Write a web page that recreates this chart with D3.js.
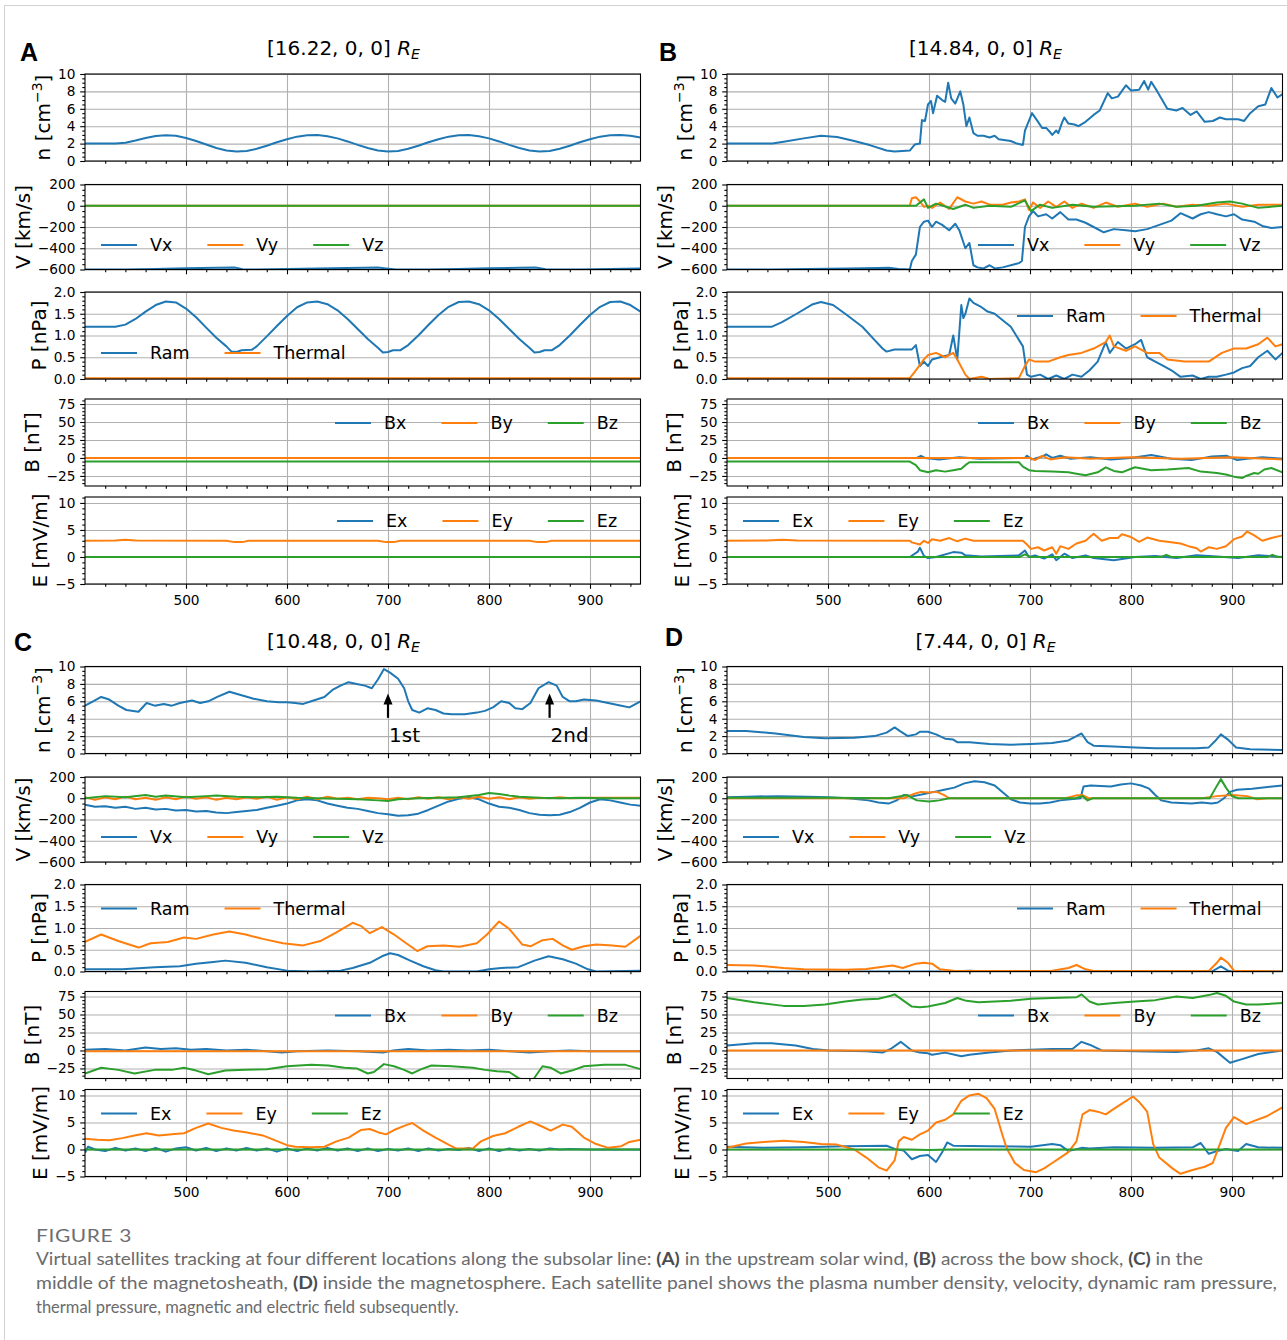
<!DOCTYPE html>
<html>
<head>
<meta charset="utf-8">
<script src="https://cdn.jsdelivr.net/npm/d3@7"></script>
<style>
  body { margin: 0; background: #fff; }
  svg text { font-family: "DejaVu Sans", sans-serif; fill: #000; }
</style>
</head>
<body>
<script>
// ---- shared axis values ----
const tDomain = [400, 950];
const xMajor = [500, 600, 700, 800, 900];
const xMinor = d3.range(420, 950, 20).filter(t => t % 100 !== 0);

const rowKeys = ["n", "V", "P", "B", "E"];
const rowNames = { V: ["Vx", "Vy", "Vz"], P: ["Ram", "Thermal"], B: ["Bx", "By", "Bz"], E: ["Ex", "Ey", "Ez"] };
const yTicks = { n: [0, 2, 4, 6, 8, 10], V: [-600, -400, -200, 0, 200], P: [0, 0.5, 1, 1.5, 2], B: [-25, 0, 25, 50, 75], E: [-5, 0, 5, 10] };
const yMinorStep = { n: 0.5, V: 50, P: 0.1, B: 5, E: 1 };
const yDomains = { n: [0, 10], V: [-600, 200], P: [0, 2], B: [-39, 82], E: [-5, 11.1] };

// ---- panel A: [16.22, 0, 0] ----
const aN = [[400,2.0],[410,2.0],[420,2.0],[430,2.0],[440,2.1],[450,2.35],[460,2.65],[470,2.88],[480,2.97],[490,2.9],[500,2.65],[510,2.3],[520,1.9],[530,1.5],[540,1.2],[550,1.1],[560,1.15],[570,1.4],[580,1.75],[590,2.15],[600,2.5],[610,2.8],[620,2.95],[630,2.98],[640,2.85],[650,2.6],[660,2.25],[670,1.85],[680,1.5],[690,1.2],[700,1.1],[710,1.15],[720,1.4],[730,1.75],[740,2.15],[750,2.5],[760,2.8],[770,2.95],[780,2.98],[790,2.85],[800,2.6],[810,2.25],[820,1.85],[830,1.5],[840,1.2],[850,1.1],[860,1.15],[870,1.4],[880,1.75],[890,2.15],[900,2.5],[910,2.8],[920,2.95],[930,2.98],[940,2.9],[950,2.7]];
const aVx = [[400,-600],[440,-600],[470,-595],[500,-588],[530,-583],[548,-581],[556,-597],[570,-600],[600,-596],[630,-590],[660,-585],[690,-582],[698,-590],[708,-600],[740,-600],[770,-595],[800,-589],[830,-584],[846,-582],[856,-598],[890,-600],[920,-596],[950,-590]];
const aVy = [[400,0],[950,0]];
const aVz = [[400,0],[950,0]];
const aRam = [[400,1.2],[410,1.2],[420,1.2],[430,1.2],[440,1.25],[450,1.38],[460,1.55],[470,1.7],[480,1.78],[490,1.76],[500,1.62],[510,1.42],[520,1.18],[530,0.95],[540,0.75],[545,0.63],[550,0.62],[555,0.66],[565,0.67],[570,0.75],[580,0.98],[590,1.22],[600,1.45],[610,1.65],[620,1.76],[630,1.78],[640,1.72],[650,1.58],[660,1.38],[670,1.15],[680,0.92],[690,0.72],[695,0.61],[700,0.62],[705,0.66],[712,0.66],[720,0.78],[730,1.0],[740,1.24],[750,1.47],[760,1.66],[770,1.77],[780,1.78],[790,1.72],[800,1.58],[810,1.38],[820,1.15],[830,0.92],[840,0.72],[845,0.61],[850,0.62],[855,0.66],[862,0.66],[870,0.78],[880,1.0],[890,1.24],[900,1.47],[910,1.66],[920,1.77],[930,1.78],[940,1.7],[950,1.55]];
const aTherm = [[400,0.02],[950,0.02]];
const aBx = [[400,0],[950,0]];
const aBy = [[400,0],[950,0]];
const aBz = [[400,-5],[950,-5]];
const aEx = [[400,0],[950,0]];
const aEy = [[400,3.0],[430,3.05],[440,3.2],[450,3.05],[540,3.0],[548,2.75],[556,2.75],[562,3.0],[690,3.0],[698,2.75],[706,2.75],[712,3.0],[840,3.0],[848,2.75],[856,2.75],[862,3.0],[950,3.0]];
const aEz = [[400,0],[950,0]];

// ---- panel B: [14.84, 0, 0] ----
const bN = [[400,2],[445,2],[456,2.2],[476,2.6],[493,2.9],[509,2.75],[526,2.3],[542,1.8],[558,1.2],[566,1.1],[581,1.2],[586,1.9],[591,2.0],[593,4.7],[596,4.6],[599,6.5],[602,6.9],[604,5.5],[608,7.5],[613,7.0],[616,6.8],[619,9.0],[622,7.2],[626,6.6],[631,8.0],[634,6.5],[637,4.0],[640,5.0],[644,3.2],[648,2.9],[654,2.9],[660,2.7],[665,2.9],[669,2.5],[681,2.3],[687,2.0],[693,1.85],[695,3.5],[702,5.5],[708,4.5],[712,3.8],[716,3.8],[720,3.3],[722,3.0],[726,3.5],[728,3.2],[732,4.5],[734,5.0],[738,4.3],[744,4.2],[748,4.0],[755,4.5],[763,5.3],[769,5.8],[777,7.8],[781,7.2],[787,7.4],[795,8.7],[800,8.1],[808,8.2],[813,9.2],[817,8.2],[820,9.1],[826,8.0],[836,6.0],[845,5.8],[851,6.1],[859,5.3],[865,5.7],[873,4.5],[881,4.6],[888,5.0],[894,4.8],[906,4.8],[912,4.6],[918,5.5],[926,6.3],[933,6.5],[939,8.4],[945,7.3],[950,7.7]];
const bVx = [[400,-600],[445,-600],[480,-595],[520,-590],[550,-585],[560,-583],[570,-595],[581,-600],[583,-520],[587,-460],[591,-200],[595,-150],[599,-140],[603,-200],[607,-150],[613,-180],[620,-230],[626,-170],[630,-230],[636,-400],[640,-350],[644,-560],[648,-580],[654,-590],[660,-560],[665,-590],[673,-580],[689,-540],[692,-520],[695,-200],[699,-100],[703,-50],[708,-100],[716,-80],[722,-120],[730,-60],[738,-130],[746,-130],[755,-160],[763,-200],[773,-250],[783,-220],[795,-230],[804,-240],[816,-220],[828,-180],[840,-140],[849,-70],[861,-120],[869,-80],[877,-60],[885,-80],[894,-100],[902,-80],[910,-130],[922,-150],[930,-190],[939,-210],[950,-200]];
const bVy = [[400,0],[581,0],[583,70],[587,80],[591,40],[595,-10],[599,0],[603,-20],[611,30],[620,-30],[628,80],[636,40],[644,20],[652,40],[660,10],[673,10],[681,30],[689,40],[695,60],[699,-40],[703,30],[710,-20],[718,40],[726,-10],[734,40],[742,-20],[751,20],[763,-20],[775,30],[787,-10],[804,20],[816,-10],[832,20],[845,-10],[861,10],[877,0],[894,20],[910,-10],[926,10],[950,10]];
const bVz = [[400,0],[587,0],[595,60],[599,-20],[607,20],[624,-30],[636,10],[644,-20],[660,0],[681,-10],[695,50],[701,-50],[710,10],[722,-20],[742,10],[763,-10],[804,0],[828,20],[845,-10],[865,0],[885,30],[898,40],[910,20],[926,-20],[950,0]];
const bRam = [[400,1.2],[444,1.2],[454,1.3],[469,1.5],[485,1.72],[493,1.77],[505,1.7],[517,1.5],[534,1.2],[546,0.9],[554,0.7],[558,0.63],[566,0.68],[583,0.68],[587,0.78],[591,0.3],[595,0.4],[599,0.3],[603,0.45],[611,0.5],[620,0.55],[624,1.0],[628,0.45],[632,1.7],[634,1.4],[636,1.5],[640,1.85],[644,1.75],[652,1.65],[658,1.55],[665,1.5],[673,1.35],[681,1.2],[689,0.9],[693,0.75],[697,0.1],[701,0.05],[710,0.1],[718,0.0],[726,0.08],[734,0.0],[742,0.1],[751,0.05],[759,0.2],[767,0.4],[775,0.85],[779,0.6],[787,0.85],[795,0.7],[804,0.8],[810,0.9],[816,0.5],[824,0.4],[832,0.3],[840,0.2],[849,0.05],[861,0.08],[869,0.0],[877,0.05],[885,0.05],[894,0.1],[902,0.15],[910,0.25],[918,0.3],[926,0.5],[935,0.65],[943,0.45],[950,0.6]];
const bTherm = [[400,0.02],[581,0.02],[587,0.2],[595,0.45],[599,0.55],[607,0.6],[616,0.5],[624,0.6],[628,0.45],[636,0.1],[640,0.0],[652,0.05],[660,0.0],[689,0.02],[695,0.3],[699,0.45],[705,0.4],[718,0.4],[730,0.5],[738,0.55],[751,0.6],[763,0.7],[775,0.85],[779,1.0],[783,0.75],[795,0.65],[804,0.75],[816,0.6],[828,0.6],[836,0.45],[853,0.4],[865,0.4],[877,0.4],[890,0.6],[902,0.7],[914,0.7],[926,0.8],[935,0.95],[943,0.75],[950,0.8]];
const bBx = [[400,0],[588,0],[592,3],[596,0],[610,-2],[630,1],[650,-1],[695,0],[697,3],[702,-2],[712,2],[716,5],[722,0],[730,3],[740,-1],[760,1],[780,-2],[800,0],[820,4],[840,-1],[860,-3],[880,2],[895,3],[905,-3],[915,-1],[930,1],[950,-1]];
const bBy = [[400,0],[700,0],[705,-3],[712,3],[720,-2],[735,1],[760,-1],[800,1],[850,-1],[900,1],[950,-2]];
const bBz = [[400,-5],[581,-5],[587,-10],[591,-17],[599,-20],[607,-17],[616,-19],[624,-17],[632,-15],[636,-10],[640,-6],[656,-6],[673,-6],[689,-6],[693,-12],[699,-17],[705,-18],[722,-19],[738,-20],[746,-22],[755,-24],[767,-20],[775,-13],[783,-18],[791,-20],[800,-15],[804,-13],[820,-17],[836,-16],[857,-14],[869,-19],[885,-21],[894,-23],[902,-26],[910,-28],[914,-25],[922,-21],[926,-22],[932,-16],[939,-14],[950,-20]];
const bEx = [[400,0],[581,0],[589,1.0],[591,1.7],[595,0.2],[599,-0.2],[607,0],[624,0.9],[632,0.8],[636,0.3],[652,0.1],[689,0.3],[695,1.2],[699,0.0],[705,0.3],[714,-0.3],[722,0.5],[726,-0.6],[734,0.6],[742,-0.2],[755,0.3],[763,-0.2],[783,-0.6],[804,0],[824,0.2],[845,-0.2],[865,0.3],[885,0.1],[906,-0.2],[926,0.3],[950,0]];
const bEy = [[400,3.0],[440,3.05],[455,3.2],[470,3.05],[581,3.0],[583,2.7],[591,2.3],[595,3.0],[599,2.6],[603,3.3],[611,3.0],[620,3.5],[628,2.9],[636,3.4],[644,3.0],[652,3.0],[673,3.0],[693,3.0],[697,2.3],[701,1.5],[708,1.8],[714,1.2],[722,1.8],[726,0.6],[730,2.0],[738,1.5],[746,2.5],[755,3.0],[763,4.3],[771,3.0],[779,3.5],[787,3.5],[791,4.2],[800,3.7],[808,2.8],[816,3.6],[828,3.0],[836,2.8],[849,2.5],[857,2.0],[865,1.6],[869,1.0],[877,1.8],[885,1.5],[894,2.0],[902,3.3],[910,3.8],[915,4.7],[922,4.0],[930,3.0],[939,3.5],[950,4.0]];
const bEz = [[400,0],[690,0],[695,0.5],[700,0],[830,0],[835,0.4],[840,0],[935,0],[940,0.4],[945,0],[950,0]];

// ---- panel C: [10.48, 0, 0] ----
const cN = [[400,5.5],[408,6.0],[416,6.5],[424,6.2],[433,5.5],[441,5.0],[453,4.8],[461,5.8],[469,5.5],[478,5.7],[486,5.5],[494,5.8],[506,6.1],[514,5.8],[522,6.0],[531,6.5],[543,7.1],[555,6.7],[567,6.3],[580,6.0],[592,5.9],[600,5.9],[608,5.8],[616,5.7],[624,6.0],[637,6.5],[645,7.3],[653,7.8],[661,8.2],[669,8.0],[677,7.8],[684,7.5],[690,8.5],[696,9.7],[702,9.3],[710,8.6],[716,7.5],[720,6.0],[724,5.0],[731,4.7],[739,5.2],[747,5.0],[755,4.6],[763,4.5],[776,4.5],[788,4.7],[796,4.9],[804,5.3],[812,6.0],[820,5.8],[826,5.2],[833,5.1],[841,5.8],[849,7.5],[859,8.2],[867,7.8],[873,6.5],[880,6.0],[886,6.0],[894,6.2],[906,6.1],[918,5.8],[931,5.5],[939,5.3],[950,6.0]];
const cVx = [[400,-60],[410,-80],[420,-75],[430,-90],[440,-80],[450,-100],[460,-90],[470,-105],[480,-100],[490,-115],[500,-110],[510,-125],[520,-120],[530,-135],[540,-140],[550,-130],[560,-120],[570,-110],[580,-90],[590,-70],[600,-50],[610,-20],[620,-10],[630,-20],[640,-50],[650,-70],[660,-90],[670,-100],[680,-120],[690,-140],[700,-150],[710,-165],[720,-160],[730,-145],[740,-110],[750,-70],[760,-30],[770,-5],[780,10],[790,-10],[800,-50],[810,-80],[820,-90],[830,-110],[840,-140],[850,-155],[860,-160],[870,-155],[880,-130],[890,-90],[900,-40],[910,-10],[920,-20],[930,-40],[940,-60],[950,-70]];
const cVy = [[400,10],[410,-15],[420,10],[430,-10],[440,15],[450,-10],[460,5],[470,-15],[480,10],[490,-10],[500,15],[510,-5],[520,10],[530,-15],[540,5],[550,-10],[560,10],[570,-5],[580,15],[590,-15],[600,10],[610,-10],[620,15],[630,-10],[640,15],[650,-5],[660,5],[670,-10],[680,5],[690,0],[700,-10],[710,5],[720,-10],[730,10],[740,-5],[750,10],[760,-10],[770,10],[780,-5],[790,15],[800,-5],[810,10],[820,-10],[830,10],[840,-5],[850,5],[860,0],[870,10],[880,0],[900,5],[950,5]];
const cVz = [[400,0],[420,20],[440,10],[460,30],[470,15],[480,25],[500,10],[520,20],[530,25],[550,15],[570,10],[590,15],[610,5],[630,0],[650,-5],[670,-10],[690,-20],[700,-25],[710,-10],[730,0],[750,5],[770,10],[790,30],[800,50],[810,40],[820,25],[830,15],[850,5],[870,0],[890,5],[910,0],[950,0]];
const cRam = [[400,0.05],[437,0.05],[469,0.1],[494,0.12],[510,0.18],[527,0.22],[539,0.25],[559,0.2],[580,0.1],[600,0.02],[624,0.0],[653,0.02],[665,0.08],[682,0.2],[694,0.35],[702,0.42],[710,0.38],[722,0.25],[735,0.12],[747,0.03],[755,0.0],[788,0.0],[800,0.05],[812,0.08],[829,0.1],[845,0.25],[859,0.35],[873,0.28],[886,0.18],[898,0.05],[906,0.0],[950,0.02]];
const cTherm = [[400,0.68],[416,0.85],[433,0.7],[453,0.55],[465,0.65],[482,0.68],[498,0.78],[510,0.75],[527,0.85],[543,0.92],[559,0.85],[576,0.75],[596,0.65],[616,0.6],[633,0.7],[649,0.9],[665,1.12],[673,1.05],[682,0.88],[694,1.02],[706,0.85],[718,0.65],[729,0.47],[739,0.58],[755,0.6],[771,0.57],[788,0.65],[798,0.85],[810,1.15],[820,0.98],[833,0.62],[841,0.58],[853,0.72],[863,0.75],[873,0.6],[882,0.5],[894,0.58],[906,0.62],[922,0.6],[935,0.57],[950,0.82]];
const cBx = [[400,1],[420,2],[440,0],[460,4],[475,2],[490,3],[505,1],[520,2],[540,0],[560,1],[580,-1],[595,-3],[610,-1],[640,0],[670,-1],[695,-3],[705,0],[720,2],[740,0],[760,1],[780,0],[800,1],[820,-1],[840,-3],[860,-1],[880,0],[900,-1],[950,-1]];
const cBy = [[400,-1],[950,-1]];
const cBz = [[400,-32],[416,-24],[433,-27],[449,-32],[469,-27],[486,-27],[498,-24],[510,-28],[522,-33],[539,-28],[559,-27],[580,-26],[600,-22],[624,-20],[641,-21],[657,-24],[669,-25],[680,-32],[686,-30],[696,-19],[706,-22],[716,-27],[724,-32],[733,-26],[743,-21],[763,-22],[784,-24],[796,-27],[808,-29],[820,-30],[829,-38],[835,-42],[841,-45],[845,-38],[853,-22],[861,-24],[871,-32],[882,-28],[894,-22],[914,-20],[935,-20],[950,-26]];
const cEx = [[400,-0.6],[403,0.5],[410,0],[420,-0.3],[430,0.3],[440,-0.2],[450,0.2],[460,-0.3],[470,0.3],[480,-0.4],[490,0.2],[500,0.4],[510,-0.2],[520,0.3],[530,-0.3],[540,0.2],[550,-0.2],[560,0.3],[570,-0.2],[580,0.2],[590,-0.4],[600,0.2],[610,-0.3],[620,0.2],[630,-0.2],[640,0.3],[650,-0.2],[660,0.2],[670,-0.3],[680,0.2],[690,-0.3],[700,0.1],[710,-0.2],[720,0.2],[730,-0.3],[740,0.2],[750,-0.2],[760,0.1],[770,-0.1],[780,0.3],[790,-0.3],[800,0.2],[810,-0.3],[820,0.2],[830,-0.2],[840,0.1],[850,-0.2],[860,0.2],[870,0],[880,0.1],[900,0],[950,0]];
const cEy = [[400,2.0],[412,1.8],[424,1.7],[437,2.1],[449,2.6],[461,3.0],[473,2.6],[486,2.8],[498,3.0],[510,4.0],[522,4.8],[535,4.0],[547,3.5],[559,3.2],[576,2.6],[592,1.4],[600,0.8],[608,0.5],[624,0.4],[637,0.5],[649,1.5],[661,2.2],[673,3.6],[682,3.8],[690,3.2],[698,2.8],[706,3.6],[718,4.5],[724,4.9],[735,3.5],[747,2.2],[759,1.0],[767,0.2],[784,0.2],[792,1.5],[804,2.5],[816,3.0],[829,4.2],[841,5.2],[853,4.2],[861,3.5],[873,4.6],[882,4.2],[894,2.2],[906,1.0],[918,0.3],[931,0.6],[939,1.4],[950,1.8]];
const cEz = [[400,0],[950,0]];
const cMarkTimes = [700, 860];
const cMarkLabels = ["1st", "2nd"];

// ---- panel D: [7.44, 0, 0] ----
const dN = [[400,2.6],[419,2.6],[448,2.3],[476,1.9],[497,1.75],[526,1.8],[546,2.0],[558,2.4],[566,3.0],[571,2.6],[579,2.0],[587,2.2],[591,2.5],[599,2.5],[607,2.2],[616,1.7],[624,1.6],[628,1.3],[640,1.3],[660,1.1],[681,1.0],[701,1.1],[722,1.2],[738,1.5],[746,2.0],[751,2.3],[757,1.3],[763,0.9],[783,0.8],[804,0.7],[824,0.6],[845,0.6],[865,0.6],[877,0.7],[883,1.4],[889,2.2],[896,1.6],[904,0.7],[918,0.5],[950,0.4]];
const dVx = [[400,10],[420,15],[450,20],[480,15],[500,10],[520,0],[540,-20],[550,-40],[560,-50],[568,-20],[575,30],[585,20],[595,40],[605,60],[615,80],[625,100],[635,140],[645,160],[655,150],[665,120],[675,40],[681,-10],[690,-40],[700,-50],[710,-50],[720,-40],[730,-20],[740,-10],[750,0],[753,110],[760,120],[780,110],[790,130],[800,140],[810,120],[818,90],[824,30],[830,-20],[840,-40],[860,-50],[870,-40],[880,-50],[886,-40],[892,0],[898,60],[905,80],[920,90],[940,110],[950,120]];
const dVy = [[400,0],[575,0],[585,40],[592,60],[600,55],[608,60],[615,30],[620,0],[735,0],[745,25],[752,30],[758,0],[870,0],[885,20],[900,30],[915,20],[925,-10],[935,0],[950,0]];
const dVz = [[400,5],[500,5],[560,0],[572,20],[578,30],[588,-20],[600,-30],[610,-20],[620,0],[745,0],[752,20],[757,-20],[762,0],[878,0],[884,100],[889,180],[894,100],[900,20],[906,0],[950,0]];
const dRam = [[400,0],[620,0],[640,0.02],[660,0],[880,0],[889,0.12],[896,0.02],[900,0],[950,0]];
const dTherm = [[400,0.15],[427,0.14],[456,0.08],[476,0.05],[517,0.04],[538,0.06],[558,0.12],[564,0.14],[574,0.08],[587,0.18],[595,0.2],[603,0.18],[611,0.05],[624,0.02],[681,0.01],[722,0.02],[738,0.08],[746,0.15],[755,0.05],[763,0.01],[877,0.01],[885,0.2],[889,0.32],[896,0.2],[902,0.02],[950,0.0]];
const dBx = [[400,7],[427,10],[444,10],[468,7],[485,2],[501,0],[538,-1],[554,-3],[562,2],[572,12],[583,0],[591,-3],[599,-4],[603,-6],[616,-3],[632,-8],[640,-6],[660,-3],[681,0],[722,2],[742,2],[751,12],[759,8],[771,0],[804,-1],[845,-2],[865,0],[877,3],[885,-2],[898,-17],[910,-12],[926,-5],[950,0]];
const dBy = [[400,0],[950,0]];
const dBz = [[400,73],[427,67],[456,62],[476,62],[497,64],[517,68],[534,71],[550,72],[562,76],[566,78],[574,70],[583,61],[591,60],[599,61],[616,66],[628,73],[637,69],[649,67],[681,69],[701,72],[722,73],[746,74],[751,78],[759,68],[767,64],[783,66],[804,68],[824,70],[845,75],[861,73],[877,77],[885,80],[894,76],[902,68],[914,64],[926,64],[950,66]];
const dEx = [[400,0.5],[436,0.3],[476,0.4],[517,0.6],[558,0.7],[566,0.1],[575,-0.2],[583,-1.8],[591,-1.2],[599,-1.0],[607,-2.3],[613,-0.5],[618,1.3],[624,0.7],[660,0.6],[701,0.5],[722,1.0],[730,0.8],[738,-0.3],[751,0.3],[759,0.2],[783,0.4],[824,0.3],[861,0.4],[869,1.2],[877,-0.8],[885,-0.3],[894,0.1],[906,-0.3],[914,1.0],[926,0.4],[950,0.3]];
const dEy = [[400,0.3],[419,1.1],[436,1.4],[456,1.6],[476,1.4],[493,1.0],[509,0.9],[526,0.0],[538,-1.5],[550,-3.3],[558,-3.9],[566,-2.0],[570,1.5],[575,2.3],[583,1.8],[591,2.8],[599,3.5],[607,5.0],[616,5.5],[624,6.5],[632,9.0],[640,10.0],[649,10.3],[657,9.5],[665,7.5],[673,2.5],[677,0.2],[685,-2.5],[694,-3.8],[706,-4.2],[714,-3.5],[722,-2.5],[730,-1.5],[738,-0.5],[746,1.5],[752,6.5],[759,7.3],[767,7.0],[775,6.5],[783,7.5],[791,8.5],[802,9.8],[808,8.8],[816,7.0],[822,1.0],[828,-1.5],[841,-3.5],[849,-4.5],[861,-3.8],[873,-3.2],[881,-2.5],[885,-0.5],[894,4.0],[902,6.0],[914,4.7],[922,5.3],[935,6.2],[950,7.8]];
const dEz = [[400,0],[580,0],[600,-0.1],[620,0],[950,0]];

// ---- caption ----
const captionHead = "FIGURE 3";
const captionLines = [
  [["Virtual satellites tracking at four different locations along the subsolar line: ", 0], ["(A)", 1], [" in the upstream solar wind, ", 0], ["(B)", 1], [" across the bow shock, ", 0], ["(C)", 1], [" in the", 0]],
  [["middle of the magnetosheath, ", 0], ["(D)", 1], [" inside the magnetosphere. Each satellite panel shows the plasma number density, velocity, dynamic ram pressure,", 0]],
  [["thermal pressure, magnetic and electric field subsequently.", 0]]
];

// ---- layout ----
const W = 1287, H = 1340;
const plotW = 555.5;
const rowBox = { n: [74, 161], V: [184.5, 269.5], P: [292, 379], B: [399, 486], E: [497, 584] };
const colors = ["#1f77b4", "#ff7f0e", "#2ca02c"];
const fmts = { n: d3.format("d"), V: d3.format("d"), P: d3.format(".1f"), B: d3.format("d"), E: d3.format("d") };

const panels = [
  { id: "A", pos: "16.22", left: 85, top: 0, letter: [20, 61],
    data: { n: [aN], V: [aVx, aVy, aVz], P: [aRam, aTherm], B: [aBx, aBy, aBz], E: [aEx, aEy, aEz] },
    leg: { V: [16, 60.5], P: [16, 61], B: [250, 24], E: [252, 24] } },
  { id: "B", pos: "14.84", left: 727, top: 0, letter: [659, 61],
    data: { n: [bN], V: [bVx, bVy, bVz], P: [bRam, bTherm], B: [bBx, bBy, bBz], E: [bEx, bEy, bEz] },
    leg: { V: [251, 60.5], P: [290, 24], B: [251, 24], E: [16, 24] } },
  { id: "C", pos: "10.48", left: 85, top: 592.5, letter: [14, 651],
    data: { n: [cN], V: [cVx, cVy, cVz], P: [cRam, cTherm], B: [cBx, cBy, cBz], E: [cEx, cEy, cEz] },
    leg: { V: [16, 60], P: [16, 24], B: [250, 24], E: [16, 24] }, marks: true },
  { id: "D", pos: "7.44", left: 727, top: 592.5, letter: [665, 646],
    data: { n: [dN], V: [dVx, dVy, dVz], P: [dRam, dTherm], B: [dBx, dBy, dBz], E: [dEx, dEy, dEz] },
    leg: { V: [16, 60], P: [290, 24], B: [251, 24], E: [16, 24] } }
];

const svg = d3.select("body").append("svg").attr("width", W).attr("height", H);
svg.append("rect").attr("width", W).attr("height", H).attr("fill", "#fff");
svg.append("rect").attr("x", 4.5).attr("y", 5.5).attr("width", W + 20).attr("height", H + 20)
  .attr("fill", "none").attr("stroke", "#d2d2d2").attr("stroke-width", 1);

const x = d3.scaleLinear().domain(tDomain).range([0, plotW]);

function styleTicks(sel, size) {
  sel.select(".domain").remove();
  sel.attr("font-size", null).attr("font-family", null);
  sel.selectAll("line").attr("stroke", "#000").attr("stroke-width", 1.1);
  sel.selectAll("text").style("font-size", size + "px");
}

panels.forEach(p => {
  const pg = svg.append("g").attr("transform", `translate(${p.left},${p.top})`);

  svg.append("text").attr("x", p.letter[0]).attr("y", p.letter[1]).text(p.id)
    .style("font-family", "'Liberation Sans', Arial, sans-serif")
    .style("font-weight", "bold").style("font-size", "25px");

  const title = pg.append("text").attr("x", 258.5).attr("y", 55)
    .attr("text-anchor", "middle").style("font-size", "20px");
  title.append("tspan").text(`[${p.pos}, 0, 0] `);
  title.append("tspan").style("font-style", "italic").text("R");
  title.append("tspan").style("font-style", "italic").style("font-size", "14px").attr("dy", 4).text("E");

  rowKeys.forEach(k => {
    const [top, bot] = rowBox[k];
    const h = bot - top;
    const y = d3.scaleLinear().domain(yDomains[k]).range([h, 0]);
    const g = pg.append("g").attr("transform", `translate(0,${top})`);

    // grid
    g.append("g")
      .call(d3.axisBottom(x).tickValues(xMajor).tickSize(h).tickFormat(""))
      .call(s => s.select(".domain").remove())
      .selectAll("line").attr("stroke", "#b0b0b0").attr("stroke-width", 1.1);
    g.append("g")
      .call(d3.axisLeft(y).tickValues(yTicks[k]).tickSize(-plotW).tickFormat(""))
      .call(s => s.select(".domain").remove())
      .selectAll("line").attr("stroke", "#b0b0b0").attr("stroke-width", 1.1);

    // series
    const clipId = `clip-${p.id}-${k}`;
    g.append("clipPath").attr("id", clipId)
      .append("rect").attr("width", plotW).attr("height", h);
    const lg = g.append("g").attr("clip-path", `url(#${clipId})`);
    const line = d3.line().x(d => x(d[0])).y(d => y(d[1]));
    p.data[k].forEach((s, i) => {
      lg.append("path").attr("d", line(s)).attr("fill", "none")
        .attr("stroke", colors[i]).attr("stroke-width", 2)
        .attr("stroke-linejoin", "round");
    });

    // frame
    g.append("rect").attr("width", plotW).attr("height", h)
      .attr("fill", "none").attr("stroke", "#000").attr("stroke-width", 1.1);

    // y axis
    const [d0, d1] = yDomains[k];
    const st = yMinorStep[k];
    const yMinor = d3.range(Math.ceil(d0 / st - 1e-9), Math.floor(d1 / st + 1e-9) + 1)
      .map(i => +(i * st).toFixed(4))
      .filter(v => !yTicks[k].some(t => Math.abs(t - v) < 1e-6));
    g.append("g").call(d3.axisLeft(y).tickValues(yMinor).tickSize(2.7).tickFormat(""))
      .call(s => styleTicks(s, 13.7));
    const yAx = g.append("g")
      .call(d3.axisLeft(y).tickValues(yTicks[k]).tickFormat(fmts[k])
        .tickSizeInner(4.8).tickSizeOuter(0).tickPadding(4.8))
      .call(s => styleTicks(s, 13.7));
    const tw = d3.max(yAx.selectAll("text").nodes(), n => n.getBBox().width);
    const lx = -9.6 - tw - 5.4 - 2.5;
    const yl = g.append("text")
      .attr("transform", `translate(${lx},${h / 2}) rotate(-90)`)
      .attr("text-anchor", "middle").style("font-size", "20px");
    if (k === "n") {
      yl.append("tspan").text("n [cm");
      yl.append("tspan").attr("dy", -8).style("font-size", "14px").text("\u22123");
      yl.append("tspan").attr("dy", 8).text("]");
    } else {
      yl.text({ V: "V [km/s]", P: "P [nPa]", B: "B [nT]", E: "E [mV/m]" }[k]);
    }

    // x axis
    g.append("g").attr("transform", `translate(0,${h})`)
      .call(d3.axisBottom(x).tickValues(xMinor).tickSize(2.7).tickFormat(""))
      .call(s => styleTicks(s, 13.7));
    g.append("g").attr("transform", `translate(0,${h})`)
      .call(d3.axisBottom(x).tickValues(xMajor).tickSizeInner(4.8).tickSizeOuter(0)
        .tickPadding(6).tickFormat(k === "E" ? d3.format("d") : ""))
      .call(s => styleTicks(s, 13.7));

    // legend
    if (rowNames[k]) {
      const [lx0, ly] = p.leg[k];
      let cx = lx0;
      rowNames[k].forEach((name, i) => {
        g.append("line").attr("x1", cx).attr("x2", cx + 36).attr("y1", ly).attr("y2", ly)
          .attr("stroke", colors[i]).attr("stroke-width", 2);
        const t = g.append("text").attr("x", cx + 49).attr("y", ly).attr("dy", "0.35em")
          .style("font-size", "17.5px").text(name);
        cx += 49 + t.node().getComputedTextLength() + 35;
      });
    }

    // arrows in panel C density
    if (k === "n" && p.marks) {
      cMarkTimes.forEach((t, i) => {
        const ax = x(t), tip = y(6.9);
        g.append("line").attr("x1", ax).attr("x2", ax).attr("y1", y(4.1)).attr("y2", tip + 9)
          .attr("stroke", "#000").attr("stroke-width", 2.2);
        g.append("path")
          .attr("d", `M${ax},${tip}L${ax - 4.5},${tip + 11}L${ax + 4.5},${tip + 11}Z`)
          .attr("fill", "#000");
        g.append("text").attr("x", ax + 1).attr("y", y(1.3))
          .style("font-size", "20px").text(cMarkLabels[i]);
      });
    }
  });
});

// caption
svg.append("text").attr("x", 36).attr("y", 1242).text(captionHead)
  .attr("textLength", 96).attr("lengthAdjust", "spacingAndGlyphs")
  .style("font-family", "Lato, 'Open Sans', sans-serif").style("font-size", "17px")
  .style("fill", "#6d6e71").style("letter-spacing", "0.5px");
const capLen = [1167, 1241, null];
captionLines.forEach((parts, i) => {
  const t = svg.append("text").attr("x", 36).attr("y", 1265 + i * 24)
    .style("font-family", "Lato, 'Open Sans', sans-serif").style("font-size", "16.5px")
    .style("fill", "#6a6b6d");
  if (capLen[i]) t.attr("textLength", capLen[i]).attr("lengthAdjust", "spacingAndGlyphs");
  parts.forEach(([s, b]) => {
    t.append("tspan").text(s).style("font-weight", b ? "bold" : "normal")
      .style("fill", b ? "#4b4c4e" : "#6a6b6d");
  });
});
</script>
</body>
</html>
